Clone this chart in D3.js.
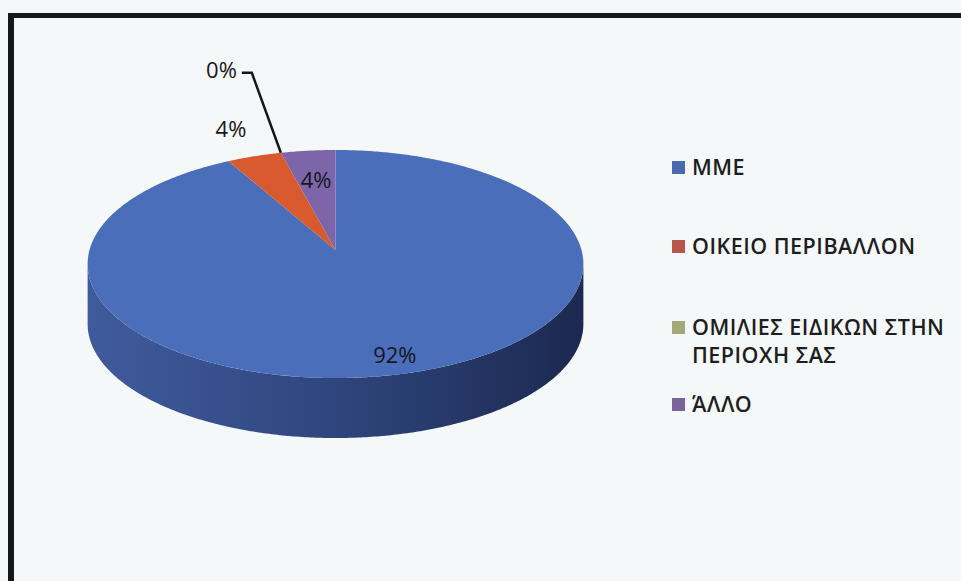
<!DOCTYPE html>
<html>
<head>
<meta charset="utf-8">
<script src="https://cdn.jsdelivr.net/npm/d3@7"></script>
<style>
  html, body { margin: 0; padding: 0; background: #f4f8f8; }
  svg { display: block; }
</style>
</head>
<body>
<svg id="chart" width="961" height="581"></svg>
<script>
// Survey answers: where respondents got their information
const categories = ["ΜΜΕ", "ΟΙΚΕΙΟ ΠΕΡΙΒΑΛΛΟΝ", "ΟΜΙΛΙΕΣ ΕΙΔΙΚΩΝ ΣΤΗΝ\nΠΕΡΙΟΧΗ ΣΑΣ", "ΆΛΛΟ"];
const values = [92, 4, 0, 4];
const valueLabels = ["92%", "4%", "0%", "4%"];

// Styling
const sliceColors = ["#4a6eba", "#d85a2e", "#9fa86c", "#7d65aa"];
const legendColors = ["#4a6aad", "#b9564c", "#a3a874", "#7a6499"];

const svg = d3.select("#chart");
const W = 961, H = 581;

// background and frame
svg.append("rect").attr("width", W).attr("height", H).attr("fill", "#f4f8f8");
svg.append("rect").attr("x", 8).attr("y", 13).attr("width", W - 8).attr("height", 5).attr("fill", "#16171b");
svg.append("rect").attr("x", 8).attr("y", 13).attr("width", 6).attr("height", H - 13).attr("fill", "#16171b");

// 3D pie geometry: a disk seen in perspective
const cx = 335.5, cy = 250, A = 246, B = 112.3, persp = 0.1228, depth = 60;
function proj(theta, r, dy) {
  const u = r * Math.sin(theta), v = -r * Math.cos(theta);
  const w = 1 - persp * v;
  return [cx + A * u / w, cy + B * v / w + (dy || 0)];
}
function rimPoints(a0, a1, dy) {
  const n = Math.max(2, Math.ceil(Math.abs(a1 - a0) / 0.01));
  return d3.range(n + 1).map(i => proj(a0 + (a1 - a0) * i / n, 1, dy));
}

const pie = d3.pie().sort(null).value(d => d)(values);

// side wall gradient
const defs = svg.append("defs");
const grad = defs.append("linearGradient").attr("id", "side").attr("x1", "0").attr("x2", "1").attr("y1", "0").attr("y2", "0");
grad.append("stop").attr("offset", "0").attr("stop-color", "#405b9d");
grad.append("stop").attr("offset", "0.5").attr("stop-color", "#2f457d");
grad.append("stop").attr("offset", "1").attr("stop-color", "#1c2950");

// visible range of the outer wall (between the silhouette extremes)
const wallMin = Math.acos(-persp), wallMax = 2 * Math.PI - Math.acos(-persp);
const line = d3.line();

pie.forEach((s, i) => {
  const a0 = Math.max(s.startAngle, wallMin), a1 = Math.min(s.endAngle, wallMax);
  if (a1 <= a0) return;
  const top = rimPoints(a0, a1, 0);
  const bottom = rimPoints(a1, a0, depth);
  svg.append("path")
    .attr("d", line(top.concat(bottom)) + "Z")
    .attr("fill", i === 0 ? "url(#side)" : d3.color(sliceColors[i]).darker(1.2));
});

// top faces
pie.forEach((s, i) => {
  if (s.endAngle - s.startAngle <= 0) return;
  const pts = [proj(0, 0)].concat(rimPoints(s.startAngle, s.endAngle, 0));
  svg.append("path")
    .attr("d", line(pts) + "Z")
    .attr("fill", sliceColors[i]);
});

// data labels
const labelRadius = [0.87, 1.33, 2.08, 0.68];
const labelFont = "'Open Sans', 'Noto Sans', sans-serif";
pie.forEach((s, i) => {
  const mid = (s.startAngle + s.endAngle) / 2;
  const ang = s.endAngle - s.startAngle > 0 ? mid : mid - 0.03;
  const [x, y] = proj(ang, labelRadius[i]);
  const t = svg.append("text")
    .attr("x", x).attr("y", y)
    .attr("dy", "0.35em")
    .attr("text-anchor", "middle")
    .attr("font-family", labelFont)
    .attr("font-size", 22)
    .attr("fill", "#16161a")
    .text(valueLabels[i]);
  if (s.endAngle - s.startAngle <= 0) {
    // leader line for a slice too thin to hold its label
    const bb = t.node().getBBox();
    const rim = proj(mid, 1);
    const yl = y + 3;
    svg.append("path")
      .attr("d", line([[bb.x + bb.width + 5, yl], [bb.x + bb.width + 15, yl], rim]))
      .attr("fill", "none")
      .attr("stroke", "#16161a")
      .attr("stroke-width", 2.5);
  }
});

// legend
const legendTop = [167, 246, 327, 404];
const legend = svg.append("g");
categories.forEach((c, i) => {
  const g = legend.append("g").attr("transform", `translate(672,${legendTop[i]})`);
  g.append("rect").attr("x", 0).attr("y", -6).attr("width", 13).attr("height", 13)
    .attr("fill", legendColors[i]);
  const t = g.append("text")
    .attr("font-family", labelFont)
    .attr("font-weight", 600)
    .attr("font-size", 21.5)
    .attr("letter-spacing", 0.5)
    .attr("fill", "#1e1e22");
  c.split("\n").forEach((ln, j) => {
    t.append("tspan").attr("x", 20).attr("y", j * 28).attr("dy", "0.35em").text(ln);
  });
});
</script>
</body>
</html>
